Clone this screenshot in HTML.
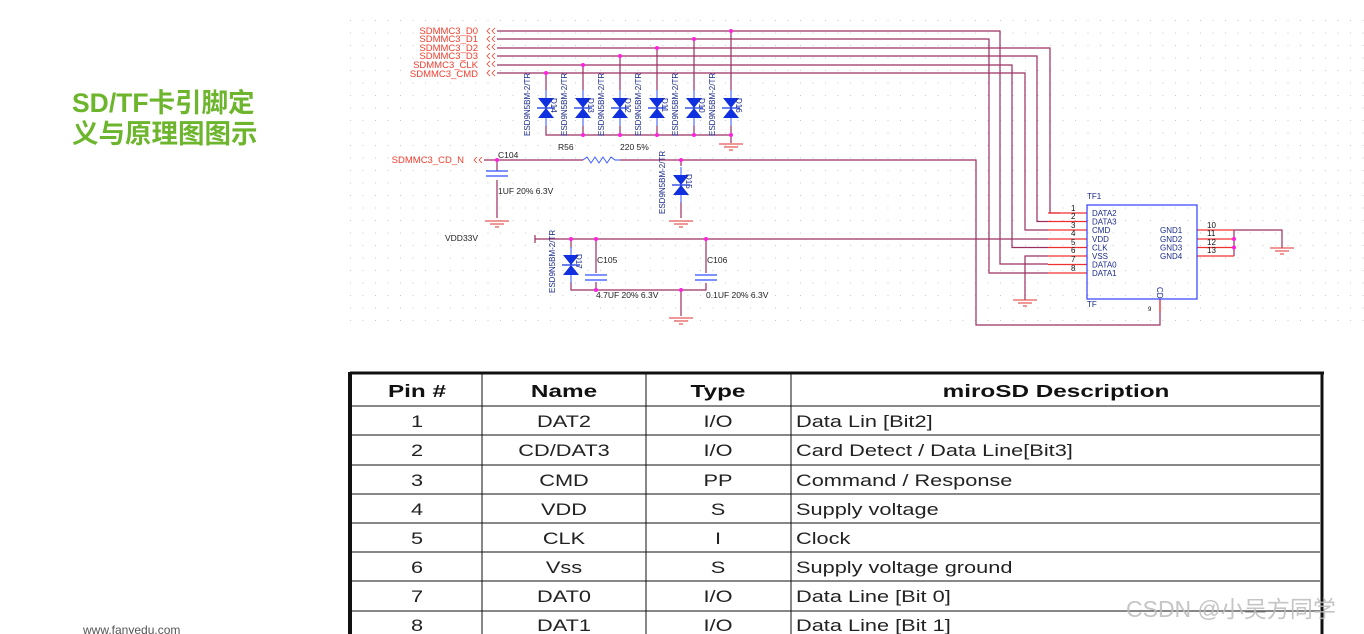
<!DOCTYPE html>
<html><head><meta charset="utf-8"><style>
html,body{margin:0;padding:0;background:#fff;}
svg{display:block;}
.sig{font-family:"Liberation Sans",sans-serif;font-size:9.5px;fill:#f04030;}
.bl{font-family:"Liberation Sans",sans-serif;font-size:8px;fill:#1a2a8a;}
.pn{font-family:"Liberation Sans",sans-serif;font-size:8px;fill:#111;}
.dk{font-family:"Liberation Sans",sans-serif;font-size:8.5px;fill:#222;}
.th{font-family:"Liberation Sans",sans-serif;font-size:18px;font-weight:bold;fill:#111;}
.td{font-family:"Liberation Sans",sans-serif;font-size:17px;fill:#222;}
</style></head><body>
<svg width="1364" height="634" viewBox="0 0 1364 634" xmlns="http://www.w3.org/2000/svg">
<defs>
<pattern id="dots" x="350" y="20" width="12.5" height="12.5" patternUnits="userSpaceOnUse">
<rect x="0" y="0" width="1" height="1" fill="#c8c8c8"/>
</pattern>
<g id="tvs">
<polygon points="-8,-10 8,-10 0,0" fill="#1030e0"/>
<polygon points="-8,10 8,10 0,0" fill="#1030e0"/>
<line x1="-9" y1="0" x2="9" y2="0" stroke="#1030e0" stroke-width="1.2"/>
<line x1="0" y1="-18" x2="0" y2="-10" stroke="#3050ff" stroke-width="1"/>
<line x1="0" y1="10" x2="0" y2="18" stroke="#3050ff" stroke-width="1"/>
</g>
<g id="gnd" stroke="#e03030" stroke-width="1">
<line x1="-12" y1="0" x2="12" y2="0"/><line x1="-7" y1="3" x2="7" y2="3"/><line x1="-2" y1="6" x2="2" y2="6"/>
</g>
<g id="cap" stroke="#3050ff" stroke-width="1.3">
<line x1="-11" y1="-2" x2="11" y2="-2"/><line x1="-11" y1="3" x2="11" y2="3"/>
</g>
</defs>
<rect x="350" y="20" width="1014" height="310" fill="url(#dots)"/>

<text x="72" y="112" font-family="'Liberation Sans','Noto Sans CJK SC',sans-serif" font-size="26.5" font-weight="bold" fill="#6cb52d">SD/TF卡引脚定</text>
<text x="72" y="143" font-family="'Liberation Sans','Noto Sans CJK SC',sans-serif" font-size="26.5" font-weight="bold" fill="#6cb52d">义与原理图图示</text>
<text x="83" y="634" font-family="'Liberation Sans',sans-serif" font-size="12" fill="#555">www.fanyedu.com</text>

<g text-anchor="end">
<text class="sig" x="478" y="34">SDMMC3_D0</text>
<text class="sig" x="478" y="42">SDMMC3_D1</text>
<text class="sig" x="478" y="51">SDMMC3_D2</text>
<text class="sig" x="478" y="59">SDMMC3_D3</text>
<text class="sig" x="478" y="68">SDMMC3_CLK</text>
<text class="sig" x="478" y="77">SDMMC3_CMD</text>
<text class="sig" x="464" y="163">SDMMC3_CD_N</text>
</g>
<g fill="none" stroke="#f04030" stroke-width="0.8">
<path d="M490,28 l-3,3 l3,3 M495,28 l-3,3 l3,3"/>
<path d="M490,36 l-3,3 l3,3 M495,36 l-3,3 l3,3"/>
<path d="M490,44 l-3,3 l3,3 M495,44 l-3,3 l3,3"/>
<path d="M490,53 l-3,3 l3,3 M495,53 l-3,3 l3,3"/>
<path d="M490,61 l-3,3 l3,3 M495,61 l-3,3 l3,3"/>
<path d="M490,70 l-3,3 l3,3 M495,70 l-3,3 l3,3"/>
<path d="M477,157 l-3,3 l3,3 M482,157 l-3,3 l3,3"/>
</g>

<g fill="none" stroke="#9a3060" stroke-width="1.2">
<path d="M497,31 H1000 V264 H1048"/>
<path d="M497,39 H989 V273 H1048"/>
<path d="M497,48 H1050 V213 H1060"/>
<path d="M497,56 H1037 V221.5 H1048"/>
<path d="M497,65 H1012 V247.5 H1048"/>
<path d="M497,73 H1025 V230 H1048"/>
<path d="M546,73 V90 M583,65 V90 M620,56 V90 M657,48 V90 M694,39 V90 M731,31 V90"/>
<path d="M546,126 V135 H731 V143 M583,126 V135 M620,126 V135 M657,126 V135 M694,126 V135 M731,126 V135"/>
<path d="M484,160 H583 M620,160 H976 V325 H1160 V299"/>
<path d="M497,160 V171 M497,180 V218"/>
<path d="M681,160 V166 M681,202 V218"/>
<path d="M535,239 H1048 M535,235 V243"/>
<path d="M571,239 V248 M571,282 V290 H706 V283 M596,239 V273 M596,282 V290 M706,239 V273 M681,290 V316"/>
<path d="M1048,256 H1025 V300"/>
<path d="M1234,230 V256 M1234,230 H1282 V248"/>
</g>
<g stroke="#f03030" stroke-width="1.2">
<line x1="1048" y1="213" x2="1087" y2="213"/><line x1="1048" y1="221.5" x2="1087" y2="221.5"/>
<line x1="1048" y1="230" x2="1087" y2="230"/><line x1="1048" y1="239" x2="1087" y2="239"/>
<line x1="1048" y1="247.5" x2="1087" y2="247.5"/><line x1="1048" y1="256" x2="1087" y2="256"/>
<line x1="1048" y1="264.5" x2="1087" y2="264.5"/><line x1="1048" y1="273" x2="1087" y2="273"/>
<line x1="1197" y1="230" x2="1234" y2="230"/><line x1="1197" y1="239" x2="1234" y2="239"/>
<line x1="1197" y1="247.5" x2="1234" y2="247.5"/><line x1="1197" y1="256" x2="1234" y2="256"/>
<line x1="1160" y1="299" x2="1160" y2="312"/>
<polyline fill="none" points="583,160 587,157 591,163 595,157 599,163 603,157 607,163 611,157 615,160 620,160" stroke="#3050ff" stroke-width="0.9"/>
</g>

<use href="#tvs" x="546" y="108"/><use href="#tvs" x="583" y="108"/><use href="#tvs" x="620" y="108"/>
<use href="#tvs" x="657" y="108"/><use href="#tvs" x="694" y="108"/><use href="#tvs" x="731" y="108"/>
<use href="#tvs" x="681" y="185"/><use href="#tvs" x="571" y="265"/>
<g class="bl">
<text transform="translate(530,136) rotate(-90)">ESD9N5BM-2/TR</text>
<text transform="translate(567,136) rotate(-90)">ESD9N5BM-2/TR</text>
<text transform="translate(604,136) rotate(-90)">ESD9N5BM-2/TR</text>
<text transform="translate(641,136) rotate(-90)">ESD9N5BM-2/TR</text>
<text transform="translate(678,136) rotate(-90)">ESD9N5BM-2/TR</text>
<text transform="translate(715,136) rotate(-90)">ESD9N5BM-2/TR</text>
<text transform="translate(665,214) rotate(-90)">ESD9N5BM-2/TR</text>
<text transform="translate(555,293) rotate(-90)">ESD9N5BM-2/TR</text>
<text transform="translate(551,98) rotate(90)">D14</text>
<text transform="translate(588,98) rotate(90)">D13</text>
<text transform="translate(625,98) rotate(90)">D12</text>
<text transform="translate(662,98) rotate(90)">D11</text>
<text transform="translate(699,98) rotate(90)">D10</text>
<text transform="translate(736,98) rotate(90)">D16</text>
<text transform="translate(686,174) rotate(90)">D15</text>
<text transform="translate(576,254) rotate(90)">D17</text>
</g>
<use href="#cap" x="497" y="173"/><use href="#cap" x="596" y="277"/><use href="#cap" x="706" y="277"/>
<use href="#gnd" x="731" y="144"/><use href="#gnd" x="497" y="221"/><use href="#gnd" x="681" y="221"/>
<use href="#gnd" x="681" y="318"/><use href="#gnd" x="1025" y="300"/><use href="#gnd" x="1282" y="248"/>
<g fill="#ff20e0">
<circle cx="546" cy="73" r="2"/><circle cx="583" cy="65" r="2"/><circle cx="620" cy="56" r="2"/>
<circle cx="657" cy="48" r="2"/><circle cx="694" cy="39" r="2"/><circle cx="731" cy="31" r="2"/>
<circle cx="583" cy="135" r="2"/><circle cx="620" cy="135" r="2"/><circle cx="657" cy="135" r="2"/>
<circle cx="694" cy="135" r="2"/><circle cx="731" cy="135" r="2"/>
<circle cx="497" cy="160" r="2"/><circle cx="681" cy="160" r="2"/>
<circle cx="571" cy="239" r="2"/><circle cx="596" cy="239" r="2"/><circle cx="706" cy="239" r="2"/>
<circle cx="596" cy="290" r="2"/><circle cx="681" cy="290" r="2"/>
<circle cx="1234" cy="239" r="2"/><circle cx="1234" cy="247.5" r="2"/>
</g>
<text class="dk" x="558" y="150">R56</text>
<text class="dk" x="620" y="150">220  5%</text>
<text class="dk" x="498" y="158">C104</text>
<text class="dk" x="498" y="194">1UF 20% 6.3V</text>
<text class="dk" x="445" y="241">VDD33V</text>
<text class="dk" x="597" y="263">C105</text>
<text class="dk" x="707" y="263">C106</text>
<text class="dk" x="596" y="298">4.7UF 20% 6.3V</text>
<text class="dk" x="706" y="298">0.1UF 20% 6.3V</text>

<rect x="1087" y="205" width="110" height="94" fill="none" stroke="#3040ff" stroke-width="1.2"/>
<text class="bl" x="1087" y="199">TF1</text>
<text class="bl" x="1087" y="307">TF</text>
<g class="bl">
<text x="1092" y="216">DATA2</text><text x="1092" y="224.5">DATA3</text><text x="1092" y="233">CMD</text>
<text x="1092" y="242">VDD</text><text x="1092" y="250.5">CLK</text><text x="1092" y="259">VSS</text>
<text x="1092" y="267.5">DATA0</text><text x="1092" y="276">DATA1</text>
<text x="1160" y="233">GND1</text><text x="1160" y="242">GND2</text><text x="1160" y="250.5">GND3</text><text x="1160" y="259">GND4</text>
<text transform="translate(1157,287) rotate(90)">CD</text>
</g>
<g class="pn">
<text x="1071" y="211">1</text><text x="1071" y="219">2</text><text x="1071" y="228">3</text><text x="1071" y="236">4</text>
<text x="1071" y="245">5</text><text x="1071" y="253">6</text><text x="1071" y="262">7</text><text x="1071" y="271">8</text>
<text x="1207" y="228">10</text><text x="1207" y="236">11</text><text x="1207" y="245">12</text><text x="1207" y="253">13</text>
<text x="1148" y="311" font-size="6">9</text>
</g>

<g stroke="#111" fill="none">
<line x1="350" y1="373" x2="1324" y2="373" stroke-width="3"/>
<line x1="350" y1="372" x2="350" y2="634" stroke-width="4"/>
<line x1="1322" y1="372" x2="1322" y2="634" stroke-width="3"/>
<g stroke-width="1">
<line x1="482" y1="373" x2="482" y2="634"/><line x1="646" y1="373" x2="646" y2="634"/><line x1="791" y1="373" x2="791" y2="634"/>
<line x1="352" y1="406" x2="1320" y2="406"/><line x1="352" y1="435" x2="1320" y2="435"/>
<line x1="352" y1="465" x2="1320" y2="465"/><line x1="352" y1="494" x2="1320" y2="494"/>
<line x1="352" y1="523" x2="1320" y2="523"/><line x1="352" y1="552" x2="1320" y2="552"/>
<line x1="352" y1="581" x2="1320" y2="581"/><line x1="352" y1="611" x2="1320" y2="611"/>
</g>
</g>
<g text-anchor="middle" class="th">
<text transform="translate(417,397) scale(1.35,1)">Pin #</text>
<text transform="translate(564,397) scale(1.35,1)">Name</text>
<text transform="translate(718,397) scale(1.35,1)">Type</text>
<text transform="translate(1056,397) scale(1.35,1)">miroSD Description</text>
</g>
<g class="td" text-anchor="middle">
<g transform="translate(417,0) scale(1.28,1)"><text y="427">1</text><text y="456">2</text><text y="486">3</text><text y="515">4</text><text y="544">5</text><text y="573">6</text><text y="602">7</text><text y="631">8</text></g>
<g transform="translate(564,0) scale(1.28,1)"><text y="427">DAT2</text><text y="456">CD/DAT3</text><text y="486">CMD</text><text y="515">VDD</text><text y="544">CLK</text><text y="573">Vss</text><text y="602">DAT0</text><text y="631">DAT1</text></g>
<g transform="translate(718,0) scale(1.28,1)"><text y="427">I/O</text><text y="456">I/O</text><text y="486">PP</text><text y="515">S</text><text y="544">I</text><text y="573">S</text><text y="602">I/O</text><text y="631">I/O</text></g>
</g>
<g class="td" transform="translate(796,0) scale(1.28,1)">
<text x="0" y="427">Data Lin [Bit2]</text>
<text x="0" y="456">Card Detect / Data Line[Bit3]</text>
<text x="0" y="486">Command / Response</text>
<text x="0" y="515">Supply voltage</text>
<text x="0" y="544">Clock</text>
<text x="0" y="573">Supply voltage ground</text>
<text x="0" y="602">Data Line [Bit 0]</text>
<text x="0" y="631">Data Line [Bit 1]</text>
</g>
<text x="1126" y="617" font-family="'Liberation Sans','Noto Sans CJK SC',sans-serif" font-size="23" fill="#bbb" fill-opacity="0.85">CSDN @小吴方同学</text>
</svg>
</body></html>
